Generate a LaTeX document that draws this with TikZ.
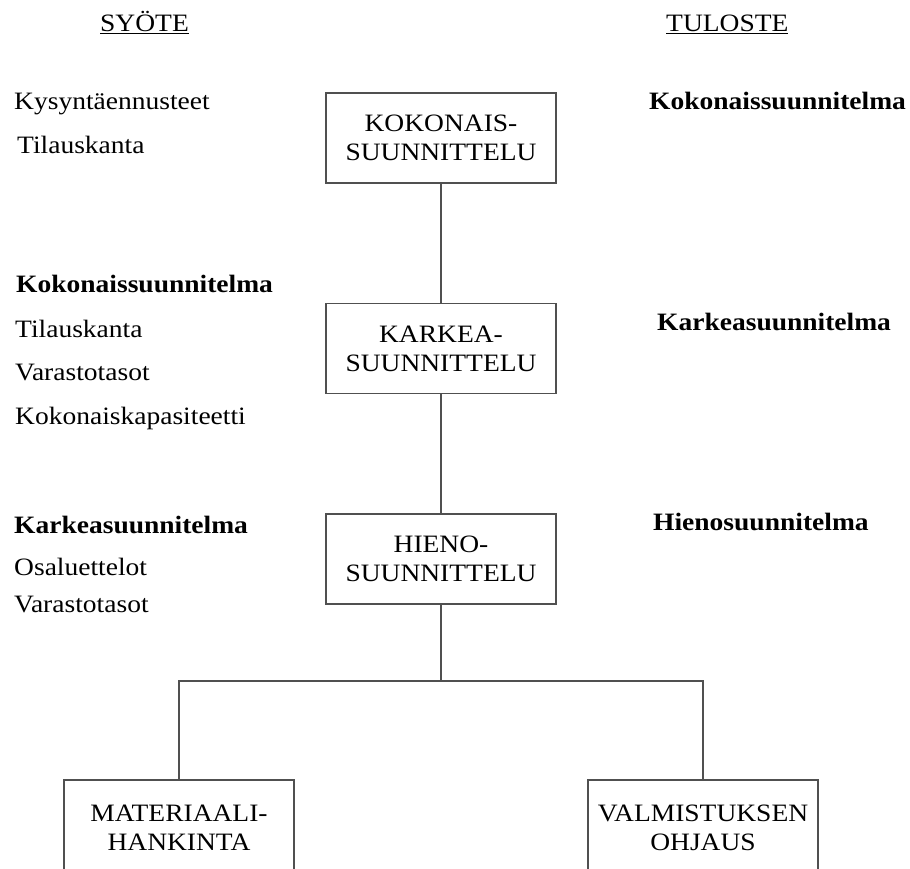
\documentclass[tikz,border=0pt]{standalone}
\usepackage{fontspec}
\setmainfont{Liberation Serif}[FakeStretch=1.1]
\definecolor{linec}{RGB}{80,80,80}
\begin{document}
\begin{tikzpicture}[x=1pt,y=-1pt,
  every node/.style={font=\fontsize{25}{29}\selectfont},
  boxnode/.style={draw=linec, line width=1.7pt, minimum width=230pt, minimum height=90pt, align=center, inner sep=0pt},
  lowbox/.style={boxnode, anchor=north, minimum height=96pt},
  lbl/.style={anchor=base west, inner sep=0pt},
  conn/.style={draw=linec, line width=1.7pt}]
\useasboundingbox (0,0) rectangle (910,869);
\clip (0,0) rectangle (910,869);
\fill[white] (0,0) rectangle (910,869);

% headings
\node[lbl] (hin) at (100,32) {\underline{SYÖTE}};
\node[lbl] (hout) at (666,32) {\underline{TULOSTE}};

% boxes
\node[boxnode] (k1) at (441,138) {KOKONAIS-\\SUUNNITTELU};
\node[boxnode] (k2) at (441,348.5) {KARKEA-\\SUUNNITTELU};
\node[boxnode] (k3) at (441,559) {HIENO-\\SUUNNITTELU};
\node[lowbox] (m1) at (179,779) {MATERIAALI-\\HANKINTA};
\node[lowbox] (v1) at (703,779) {VALMISTUKSEN\\OHJAUS};

% connectors
\coordinate (j) at (441,681);
\draw[conn] (k1) -- (k2);
\draw[conn] (k2) -- (k3);
\draw[conn] (k3) -- (j);
\draw[conn] (m1.north) |- (j) -| (v1.north);

% inputs
\node[lbl] (i1) at (14,110) {Kysyntäennusteet};
\node[lbl] (i2) at (17,154) {Tilauskanta};
\node[lbl] (i3) at (16,292) {\textbf{Kokonaissuunnitelma}};
\node[lbl] (i4) at (15,337) {Tilauskanta};
\node[lbl] (i5) at (15,380) {Varastotasot};
\node[lbl] (i6) at (15,424) {Kokonaiskapasiteetti};
\node[lbl] (i7) at (14,533) {\textbf{Karkeasuunnitelma}};
\node[lbl] (i8) at (14,575) {Osaluettelot};
\node[lbl] (i9) at (14,612) {Varastotasot};

% outputs
\node[lbl] (o1) at (649,110) {\textbf{Kokonaissuunnitelma}};
\node[lbl] (o2) at (657,330) {\textbf{Karkeasuunnitelma}};
\node[lbl] (o3) at (653,530) {\textbf{Hienosuunnitelma}};
\end{tikzpicture}
\end{document}
